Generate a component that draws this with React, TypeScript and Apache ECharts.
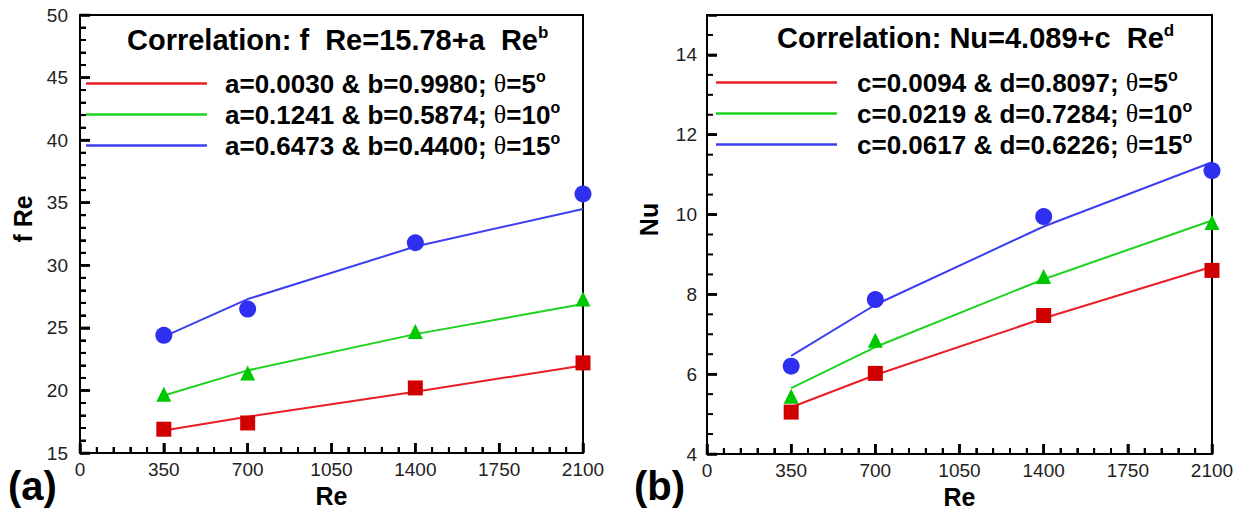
import { useEffect, useRef } from 'react';
import * as echarts from 'echarts';

// ---------- data ----------
const reValues = [350, 700, 1400, 2100];

// (a) f Re
const fReSeriesNames = [
  'a=0.0030 & b=0.9980; θ=5°',
  'a=0.1241 & b=0.5874; θ=10°',
  'a=0.6473 & b=0.4400; θ=15°',
];
const fReMeasured5 = [16.9, 17.4, 20.2, 22.2];
const fReMeasured10 = [19.7, 21.4, 24.7, 27.3];
const fReMeasured15 = [24.4, 26.5, 31.8, 35.7];
const fReFit5 = [16.8, 17.9, 19.9, 22.0];
const fReFit10 = [19.6, 21.6, 24.5, 26.9];
const fReFit15 = [24.3, 27.3, 31.5, 34.5];

// (b) Nu
const nuSeriesNames = [
  'c=0.0094 & d=0.8097; θ=5°',
  'c=0.0219 & d=0.7284; θ=10°',
  'c=0.0617 & d=0.6226; θ=15°',
];
const nuMeasured5 = [5.05, 6.02, 7.47, 8.6];
const nuMeasured10 = [5.45, 6.85, 8.45, 9.8];
const nuMeasured15 = [6.2, 7.87, 9.95, 11.1];
const nuFit5 = [5.17, 5.98, 7.4, 8.69];
const nuFit10 = [5.65, 6.68, 8.38, 9.85];
const nuFit15 = [6.46, 7.74, 9.7, 11.31];

// axis ticks
const reTicks = [0, 350, 700, 1050, 1400, 1750, 2100];
const fReTicks = [15, 20, 25, 30, 35, 40, 45, 50];
const nuTicks = [4, 6, 8, 10, 12, 14];
const reMinorStep = 70;
const fReMinorStep = 1;
const nuMinorStep = 0.5;

const lineColors = ['#ea1c24', '#1ed31e', '#3d3df2'];
const markerColors = ['#d10000', '#00c800', '#2f2ff0'];
const markerSymbols = ['rect', 'triangle', 'circle'];
const markerSizes = [15, 15, 17];

const FONT = 'Liberation Sans, Arial, Helvetica, sans-serif';
const INK = '#000';

const pairs = (ys: number[]) => reValues.map((x, i) => [x, ys[i]]);

const minorsBetween = (majors: number[], step: number, max: number) => {
  const out: number[] = [];
  const lo = majors[0];
  const n = Math.round((max - lo) / step);
  for (let k = 1; k < n; k++) {
    const v = +(lo + k * step).toFixed(4);
    if (!majors.some((m) => Math.abs(m - v) < 1e-6)) out.push(v);
  }
  return out;
};

const legendFormatter = (name: string) => {
  const [coef, ang] = name.split('; θ=');
  return `{t|${coef}; }{th|θ}{t|=${ang.replace('°', '')}}{deg|o}`;
};

const legendRich = {
  t: { fontSize: 26, fontWeight: 'bold', fontFamily: FONT, color: INK, lineHeight: 31 },
  th: { fontSize: 26, fontFamily: 'Liberation Serif, DejaVu Serif, serif', color: INK, lineHeight: 31 },
  deg: { fontSize: 16, fontWeight: 'bold', fontFamily: FONT, color: INK, lineHeight: 16, verticalAlign: 'top' },
};

const titleRich = {
  sup: { fontSize: 17, fontWeight: 'bold', fontFamily: FONT, color: INK, lineHeight: 16, verticalAlign: 'top' },
};

const xAxisFor = (gridIndex: number) => ({
  type: 'value',
  gridIndex,
  min: reTicks[0],
  max: reTicks[reTicks.length - 1],
  interval: 350,
  axisLine: { show: true, onZero: false, lineStyle: { color: INK, width: 2 } },
  axisTick: { show: true, inside: true, length: 10, lineStyle: { color: INK, width: 2.5 } },
  minorTick: { show: true, splitNumber: 5, length: 6, lineStyle: { color: INK, width: 2 } },
  splitLine: { show: false },
  axisLabel: { color: '#222', fontSize: 19, fontFamily: FONT, margin: 7, formatter: (v: number) => String(v) },
  name: 'Re',
  nameLocation: 'middle',
  nameGap: 26,
  nameTextStyle: { fontSize: 25, fontWeight: 'bold', fontFamily: FONT, color: INK },
});

// custom series drawing inward ticks: item = [kind, value]; kind 0 x-major, 1 x-minor, 2 y-major, 3 y-minor
const tickSeries = (gridIndex: number, xMin: number, yMin: number, xMajor: number[], xMinor: number[], yMajor: number[], yMinor: number[]) => {
  const data: number[][] = [
    ...xMajor.map((v) => [0, v]),
    ...xMinor.map((v) => [1, v]),
    ...yMajor.map((v) => [2, v]),
    ...yMinor.map((v) => [3, v]),
  ];
  return {
    type: 'custom',
    xAxisIndex: gridIndex,
    yAxisIndex: gridIndex,
    clip: false,
    silent: true,
    z: 5,
    data,
    renderItem: (_params: any, api: any) => {
      const kind = api.value(0);
      const v = api.value(1);
      const major = kind === 0 || kind === 2;
      const len = major ? 10 : 6;
      const lineWidth = major ? 2.5 : 2;
      if (kind < 2) {
        const p = api.coord([v, yMin]);
        return { type: 'line', shape: { x1: p[0], y1: p[1], x2: p[0], y2: p[1] - len }, style: { stroke: INK, lineWidth } };
      }
      const p = api.coord([xMin, v]);
      return { type: 'line', shape: { x1: p[0], y1: p[1], x2: p[0] + len, y2: p[1] }, style: { stroke: INK, lineWidth } };
    },
  };
};

export default function App() {
  const ref = useRef<HTMLDivElement>(null);

  useEffect(() => {
    if (!ref.current) return;
    const chart = echarts.init(ref.current, null, { renderer: 'svg' });

    const fReMeasured = [fReMeasured5, fReMeasured10, fReMeasured15];
    const fReFit = [fReFit5, fReFit10, fReFit15];
    const nuMeasured = [nuMeasured5, nuMeasured10, nuMeasured15];
    const nuFit = [nuFit5, nuFit10, nuFit15];

    const reMax = reTicks[reTicks.length - 1];
    const reMinor = minorsBetween(reTicks, reMinorStep, reMax);
    const fReMinor = minorsBetween(fReTicks, fReMinorStep, 50);
    const nuMinor = minorsBetween(nuTicks, nuMinorStep, 15);

    const series: any[] = [];
    fReSeriesNames.forEach((name, i) => {
      series.push({
        type: 'line', name, xAxisIndex: 0, yAxisIndex: 0, data: pairs(fReFit[i]),
        showSymbol: false, clip: false, lineStyle: { color: lineColors[i], width: 2 },
        itemStyle: { color: lineColors[i] }, z: 2,
      });
    });
    fReSeriesNames.forEach((_, i) => {
      series.push({
        type: 'scatter', name: `fRe measured ${i}`, xAxisIndex: 0, yAxisIndex: 0,
        data: pairs(fReMeasured[i]), symbol: markerSymbols[i], symbolSize: markerSizes[i],
        clip: false, itemStyle: { color: markerColors[i], opacity: 1 }, z: 3,
      });
    });
    nuSeriesNames.forEach((name, i) => {
      series.push({
        type: 'line', name, xAxisIndex: 1, yAxisIndex: 1, data: pairs(nuFit[i]),
        showSymbol: false, clip: false, lineStyle: { color: lineColors[i], width: 2 },
        itemStyle: { color: lineColors[i] }, z: 2,
      });
    });
    nuSeriesNames.forEach((_, i) => {
      series.push({
        type: 'scatter', name: `Nu measured ${i}`, xAxisIndex: 1, yAxisIndex: 1,
        data: pairs(nuMeasured[i]), symbol: markerSymbols[i], symbolSize: markerSizes[i],
        clip: false, itemStyle: { color: markerColors[i], opacity: 1 }, z: 3,
      });
    });
    series.push(tickSeries(0, 0, 15, reTicks, reMinor, fReTicks, fReMinor));
    series.push(tickSeries(1, 0, 4, reTicks, reMinor, nuTicks, nuMinor));

    chart.setOption({
      animation: false,
      backgroundColor: '#fff',
      textStyle: { fontFamily: FONT },
      title: [
        {
          text: 'Correlation: f  Re=15.78+a  Re{sup|b}',
          left: 122,
          top: 19,
          textStyle: { fontSize: 29, fontWeight: 'bold', fontFamily: FONT, color: INK, lineHeight: 32, rich: titleRich },
        },
        {
          text: 'Correlation: Nu=4.089+c  Re{sup|d}',
          left: 772,
          top: 17,
          textStyle: { fontSize: 29, fontWeight: 'bold', fontFamily: FONT, color: INK, lineHeight: 32, rich: titleRich },
        },
      ],
      legend: [
        {
          data: fReSeriesNames,
          orient: 'vertical',
          left: 81,
          top: 63,
          itemGap: 2.5,
          itemWidth: 121,
          itemHeight: 2.5,
          icon: 'rect',
          selectedMode: false,
          formatter: legendFormatter,
          textStyle: { padding: [0, 0, 0, 13], rich: legendRich },
        },
        {
          data: nuSeriesNames,
          orient: 'vertical',
          left: 711,
          top: 62,
          itemGap: 2.5,
          itemWidth: 121,
          itemHeight: 2.5,
          icon: 'rect',
          selectedMode: false,
          formatter: legendFormatter,
          textStyle: { padding: [0, 0, 0, 15], rich: legendRich },
        },
      ],
      grid: [
        { left: 80, top: 15, width: 503, height: 438, show: true, borderColor: INK, borderWidth: 2 },
        { left: 707, top: 15, width: 505, height: 439, show: true, borderColor: INK, borderWidth: 2 },
      ],
      xAxis: [xAxisFor(0), xAxisFor(1)],
      yAxis: [
        {
          type: 'value', gridIndex: 0, min: 15, max: 50, interval: 5,
          axisLine: { show: true, onZero: false, lineStyle: { color: INK, width: 2 } },
          axisTick: { show: true, inside: true, length: 10, lineStyle: { color: INK, width: 2.5 } },
          minorTick: { show: true, splitNumber: 5, length: 6, lineStyle: { color: INK, width: 2 } },
          splitLine: { show: false },
          axisLabel: { color: '#222', fontSize: 19, fontFamily: FONT, margin: 12 },
          name: 'f Re', nameLocation: 'middle', nameGap: 45,
          nameTextStyle: { fontSize: 25, fontWeight: 'bold', fontFamily: FONT, color: INK, padding: [0, 0, 0, 30] },
        },
        {
          type: 'value', gridIndex: 1, min: 4, max: 15, interval: 2,
          axisLine: { show: true, onZero: false, lineStyle: { color: INK, width: 2 } },
          axisTick: { show: true, inside: true, length: 10, lineStyle: { color: INK, width: 2.5 } },
          splitLine: { show: false },
          axisLabel: {
            color: '#222', fontSize: 19, fontFamily: FONT, margin: 10,
            formatter: (v: number) => (v % 2 === 0 ? String(v) : ''),
          },
          name: 'Nu', nameLocation: 'middle', nameGap: 46,
          nameTextStyle: { fontSize: 25, fontWeight: 'bold', fontFamily: FONT, color: INK, padding: [0, 0, 0, 30] },
        },
      ],
      graphic: [
        { type: 'text', left: 8, top: 466, style: { text: '(a)', font: `bold 40px ${FONT}`, fill: INK } },
        { type: 'text', left: 634, top: 466, style: { text: '(b)', font: `bold 40px ${FONT}`, fill: INK } },
      ],
      series,
    });

    return () => chart.dispose();
  }, []);

  return (
    <div
      ref={ref}
      style={{ position: 'absolute', left: 0, top: 0, width: 1250, height: 517, background: '#fff' }}
    />
  );
}
